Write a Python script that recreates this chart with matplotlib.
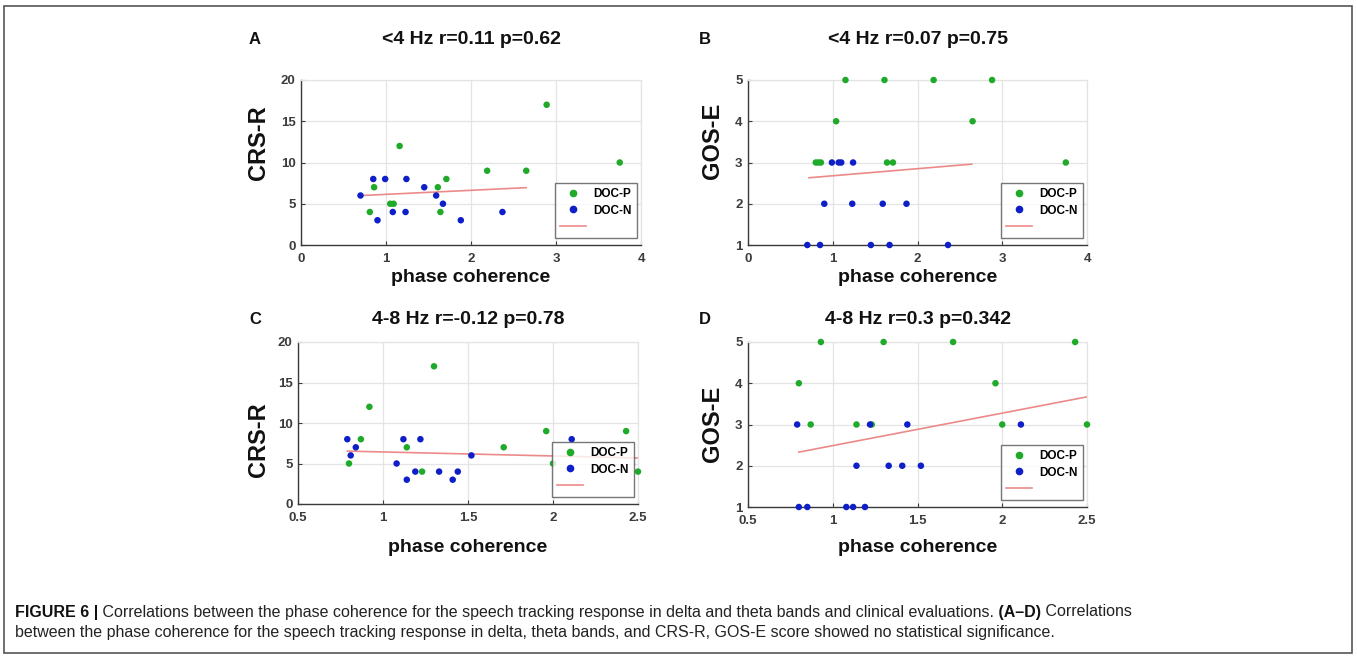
import matplotlib
matplotlib.use("Agg")
import matplotlib.pyplot as plt
from matplotlib.lines import Line2D
from matplotlib.patches import Rectangle

# ---------------- data ----------------
# Panel A: <4 Hz vs CRS-R
a_p_x = [0.81, 0.86, 1.16, 1.05, 1.09, 1.61, 1.64, 1.71, 2.19, 2.65, 2.89, 3.75]
a_p_y = [4, 7, 12, 5, 5, 7, 4, 8, 9, 9, 17, 10]
a_n_x = [0.70, 0.85, 0.90, 0.99, 1.08, 1.24, 1.23, 1.45, 1.59, 1.67, 1.88, 2.37]
a_n_y = [6, 8, 3, 8, 4, 8, 4, 7, 6, 5, 3, 4]
a_fit_x = [0.72, 2.65]
a_fit_y = [6.0, 6.95]

# Panel B: <4 Hz vs GOS-E
b_p_x = [1.15, 1.61, 2.19, 2.88, 1.04, 2.65, 0.80, 0.83, 0.86, 1.64, 1.71, 3.75]
b_p_y = [5, 5, 5, 5, 4, 4, 3, 3, 3, 3, 3, 3]
b_n_x = [0.99, 1.07, 1.10, 1.24, 0.90, 1.23, 1.59, 1.87, 0.70, 0.85, 1.45, 1.67, 2.36]
b_n_y = [3, 3, 3, 3, 2, 2, 2, 2, 1, 1, 1, 1, 1]
b_fit_x = [0.72, 2.64]
b_fit_y = [2.63, 2.96]

# Panel C: 4-8 Hz vs CRS-R
c_p_x = [0.80, 0.87, 0.92, 1.14, 1.23, 1.30, 1.71, 1.96, 2.00, 2.43, 2.50]
c_p_y = [5, 8, 12, 7, 4, 17, 7, 9, 5, 9, 4]
c_n_x = [0.79, 0.81, 0.84, 1.08, 1.12, 1.14, 1.19, 1.22, 1.33, 1.41, 1.44, 1.52, 2.11]
c_n_y = [8, 6, 7, 5, 8, 3, 4, 8, 4, 3, 4, 6, 8]
c_fit_x = [0.79, 2.50]
c_fit_y = [6.53, 5.68]

# Panel D: 4-8 Hz vs GOS-E
d_p_x = [0.93, 1.30, 1.71, 2.43, 0.80, 1.96, 0.87, 1.14, 1.23, 2.00, 2.50]
d_p_y = [5, 5, 5, 5, 4, 4, 3, 3, 3, 3, 3]
d_n_x = [0.79, 1.22, 1.44, 2.11, 1.14, 1.33, 1.41, 1.52, 0.80, 0.85, 1.08, 1.12, 1.19]
d_n_y = [3, 3, 3, 3, 2, 2, 2, 2, 1, 1, 1, 1, 1]
d_fit_x = [0.80, 2.50]
d_fit_y = [2.33, 3.67]

titles = ["<4 Hz r=0.11 p=0.62", "<4 Hz r=0.07 p=0.75",
          "4-8 Hz r=-0.12 p=0.78", "4-8 Hz r=0.3 p=0.342"]
letters = ["A", "B", "C", "D"]
ylabels = ["CRS-R", "GOS-E", "CRS-R", "GOS-E"]
xlabel = "phase coherence"
legend_labels = ["DOC-P", "DOC-N", ""]
xticks_delta = [0, 1, 2, 3, 4]
xticks_theta = [0.5, 1, 1.5, 2, 2.5]
xticklabels_theta = ["0.5", "1", "1.5", "2", "2.5"]
yticks_crs = [0, 5, 10, 15, 20]
yticks_gos = [1, 2, 3, 4, 5]

caption_bold = "FIGURE 6 |"
caption_line1 = (" Correlations between the phase coherence for the speech tracking response "
                 "in delta and theta bands and clinical evaluations.")
caption_bold2 = " (A\u2013D)"
caption_line1b = " Correlations"
caption_line2 = ("between the phase coherence for the speech tracking response in delta, theta bands, "
                 "and CRS-R, GOS-E score showed no statistical significance.")

# ---------------- style ----------------
W, H = 1357, 657
GREEN = "#1faa2a"
BLUE = "#0f1fc8"
RED = "#ec8a8a"
GRID = "#e4e4e4"
AXC = "#3a3a3a"
TICKC = "#3c3c3c"
FONT = ["Liberation Sans", "DejaVu Sans"]
plt.rcParams["font.family"] = FONT

fig = plt.figure(figsize=(W / 100, H / 100), dpi=100)
fig.patch.set_facecolor("white")


def rect(l, t, r, b):
    return [l / W, 1 - b / H, (r - l) / W, (b - t) / H]


panels = [
    dict(box=(301, 80, 641, 245), px=a_p_x, py=a_p_y, nx=a_n_x, ny=a_n_y, fx=a_fit_x, fy=a_fit_y,
         xlim=(0, 4), ylim=(0, 20), xt=xticks_delta, xtl=[str(v) for v in xticks_delta], yt=yticks_crs,
         ylab=(258, 143), xlab_y=278, title_y=40),
    dict(box=(748, 80, 1087, 245), px=b_p_x, py=b_p_y, nx=b_n_x, ny=b_n_y, fx=b_fit_x, fy=b_fit_y,
         xlim=(0, 4), ylim=(1, 5), xt=xticks_delta, xtl=[str(v) for v in xticks_delta], yt=yticks_gos,
         ylab=(712, 141), xlab_y=278, title_y=40),
    dict(box=(298, 342, 638, 504), px=c_p_x, py=c_p_y, nx=c_n_x, ny=c_n_y, fx=c_fit_x, fy=c_fit_y,
         xlim=(0.5, 2.5), ylim=(0, 20), xt=xticks_theta, xtl=xticklabels_theta, yt=yticks_crs,
         ylab=(258, 440), xlab_y=548, title_y=320),
    dict(box=(748, 342, 1087, 507), px=d_p_x, py=d_p_y, nx=d_n_x, ny=d_n_y, fx=d_fit_x, fy=d_fit_y,
         xlim=(0.5, 2.5), ylim=(1, 5), xt=xticks_theta, xtl=xticklabels_theta, yt=yticks_gos,
         ylab=(712, 424), xlab_y=548, title_y=320),
]

for i, p in enumerate(panels):
    l, t, r, b = p["box"]
    ax = fig.add_axes(rect(l, t, r, b))
    ax.set_xlim(*p["xlim"])
    ax.set_ylim(*p["ylim"])
    ax.set_xticks(p["xt"])
    ax.set_xticklabels(p["xtl"])
    ax.set_yticks(p["yt"])
    ax.grid(True, color=GRID, linewidth=0.9)
    ax.set_axisbelow(True)
    for s in ["left", "bottom"]:
        ax.spines[s].set_color(AXC)
        ax.spines[s].set_linewidth(1.0)
    for s in ["top", "right"]:
        ax.spines[s].set_color(GRID)
        ax.spines[s].set_linewidth(0.9)
    ax.tick_params(direction="in", length=3, width=0.8, colors=AXC, labelcolor=TICKC,
                   labelsize=9.5, top=False, right=False)
    ax.tick_params(axis="x", pad=6)
    ax.tick_params(axis="y", pad=4)
    for lab in ax.get_xticklabels() + ax.get_yticklabels():
        lab.set_fontweight("bold")

    ax.plot(p["fx"], p["fy"], color=RED, linewidth=1.2, zorder=2)
    ax.scatter(p["px"], p["py"], s=22, color=GREEN, edgecolors="none", zorder=3, clip_on=False)
    ax.scatter(p["nx"], p["ny"], s=22, color=BLUE, edgecolors="none", zorder=3, clip_on=False)

    fig.text(((l + r) / 2) / W, 1 - p["xlab_y"] / H, xlabel, ha="center", va="center",
             fontsize=14, fontweight="bold", color="#111111")
    yx, yy = p["ylab"]
    fig.text(yx / W, 1 - yy / H, ylabels[i], ha="center", va="center", rotation=90,
             fontsize=17, fontweight="bold", color="#111111")

    handles = [Line2D([], [], linestyle="none", marker="o", markersize=4.5, color=GREEN),
               Line2D([], [], linestyle="none", marker="o", markersize=4.5, color=BLUE),
               Line2D([], [], color=RED, linewidth=1.2)]
    w = r - l
    h = b - t
    leg = ax.legend(handles, legend_labels, loc="lower right",
                    bbox_to_anchor=(1 - 4 / w, 7 / h), borderaxespad=0,
                    prop=dict(family=FONT, weight="bold", size=8.5),
                    frameon=True, fancybox=False, edgecolor="#555555",
                    handlelength=2.2, handletextpad=0.6, labelspacing=0.35,
                    borderpad=0.45)
    leg.get_frame().set_linewidth(1.0)
    leg.set_zorder(5)

    cx = (l + r) / 2
    ty = p["title_y"]
    fig.text(cx / W, 1 - ty / H, titles[i], ha="center", va="center",
             fontsize=14, fontweight="bold", color="#111111")
    lx = 255 if i % 2 == 0 else 705
    fig.text(lx / W, 1 - ty / H, letters[i], ha="center", va="center",
             fontsize=12, fontweight="bold", color="#111111")

# frame
fig.patches.append(Rectangle((4 / W, 1 - 653 / H), (1352 - 4) / W, (653 - 6) / H,
                             transform=fig.transFigure, fill=False,
                             edgecolor="#555555", linewidth=1.2))

# caption
renderer = fig.canvas.get_renderer()
cap_size = 11.5
y1 = 1 - 612 / H
y2 = 1 - 632 / H
x = 15 / W
pieces = [(caption_bold, "bold", "#111111"), (caption_line1, "normal", "#222222"),
          (caption_bold2, "bold", "#111111"), (caption_line1b, "normal", "#222222")]
for txt, wt, col in pieces:
    tt = fig.text(x, y1, txt, ha="left", va="center", fontsize=cap_size,
                  fontweight=wt, color=col)
    bb = tt.get_window_extent(renderer=renderer)
    x = bb.x1 / W
fig.text(15 / W, y2, caption_line2, ha="left", va="center", fontsize=cap_size,
         color="#222222")

fig.savefig("out.png", dpi=100, facecolor="white")
